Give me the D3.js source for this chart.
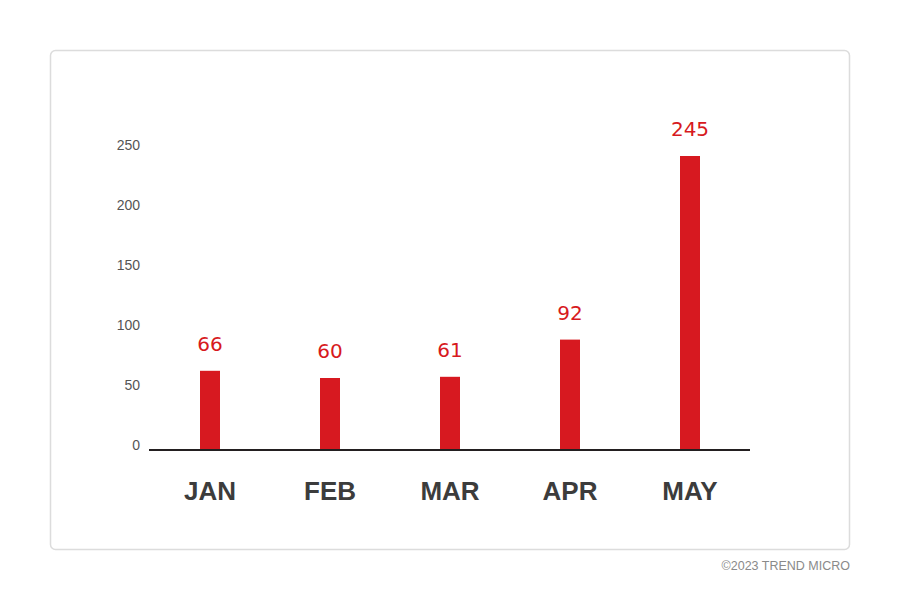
<!DOCTYPE html>
<html><head><meta charset="utf-8">
<script src="https://cdn.jsdelivr.net/npm/d3@7"></script>
<style>body{margin:0;background:#fff;}svg{display:block;font-family:"Liberation Sans",Arial,sans-serif;}</style>
</head><body><svg id="c" width="900" height="600"></svg>
<script>
const categories = ["JAN","FEB","MAR","APR","MAY"];
const values = [66,60,61,92,245];
const yTicks = [0,50,100,150,200,250];

const svg = d3.select("#c");
svg.append("rect").attr("x",50.5).attr("y",50.5).attr("width",799).attr("height",499)
  .attr("rx",5).attr("fill","#fff").attr("stroke","#dcdcdc").attr("stroke-width",1.5);

const x = d3.scaleBand().domain(categories).range([150,750]);
const y = d3.scaleLinear().domain([0,250]).range([450,150]);

svg.append("g").selectAll("text").data(yTicks).join("text")
  .attr("x",140).attr("y",d=>y(d)-5).attr("dy","0.35em").attr("text-anchor","end")
  .attr("font-size",14).attr("fill","#555").text(d=>d);

svg.append("g").selectAll("rect").data(values).join("rect")
  .attr("x",(d,i)=>x(categories[i])+x.bandwidth()/2-10).attr("width",20)
  .attr("y",d=>y(d)).attr("height",d=>y(0)-y(d)).attr("fill","#d71920");

svg.append("line").attr("x1",149).attr("x2",750).attr("y1",450).attr("y2",450)
  .attr("stroke","#231f20").attr("stroke-width",2);

svg.append("g").selectAll("text").data(values).join("text")
  .attr("x",(d,i)=>x(categories[i])+x.bandwidth()/2).attr("y",d=>y(d)-20)
  .attr("text-anchor","middle").attr("font-family","'DejaVu Sans',sans-serif")
  .attr("font-size",20).attr("fill","#d71920").text(d=>d);

svg.append("g").selectAll("text").data(categories).join("text")
  .attr("x",d=>x(d)+x.bandwidth()/2).attr("y",500).attr("text-anchor","middle")
  .attr("font-size",26).attr("font-weight","bold").attr("fill","#3c3c3c").text(d=>d);

svg.append("text").attr("x",850).attr("y",570).attr("text-anchor","end")
  .attr("font-size",12.5).attr("fill","#8a8a8a").text("©2023 TREND MICRO");
</script></body></html>
